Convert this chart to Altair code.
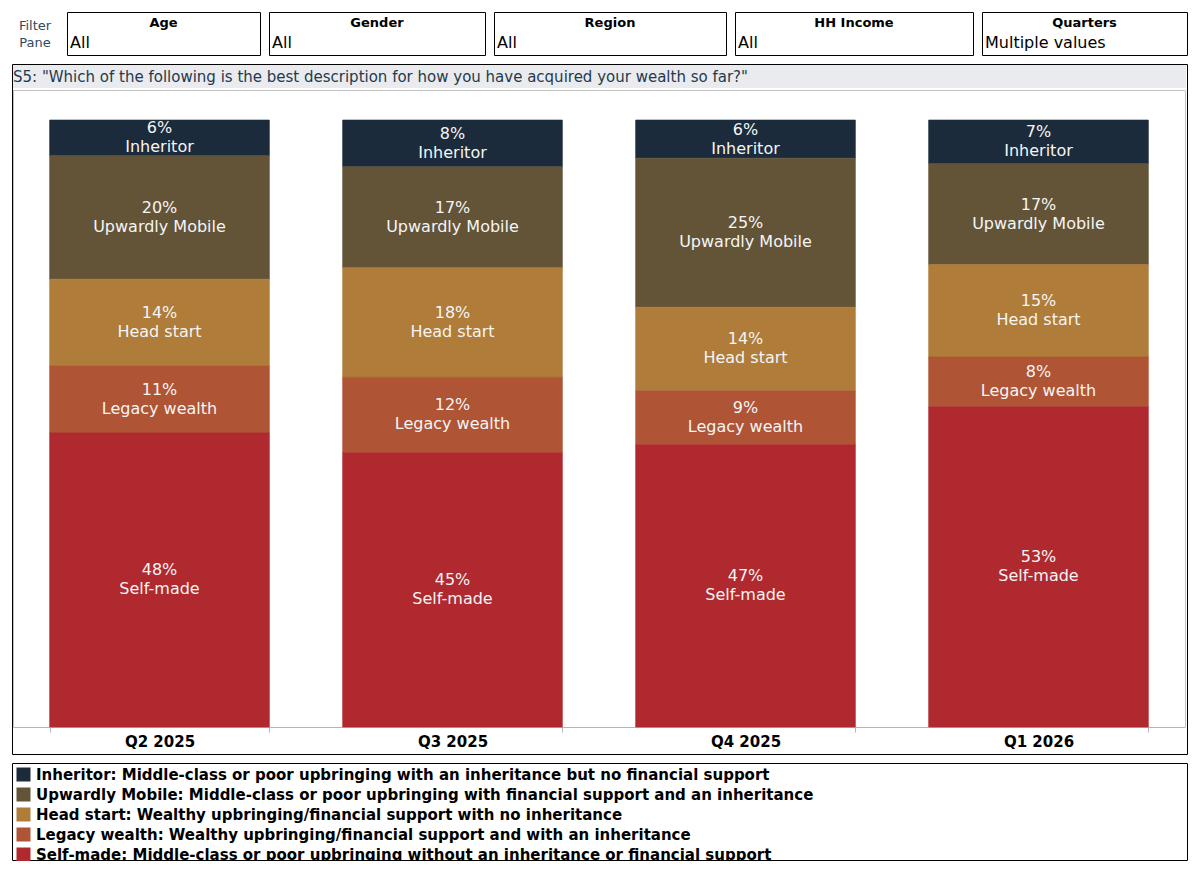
import altair as alt
import pandas as pd

quarters = ["Q2 2025", "Q3 2025", "Q4 2025", "Q1 2026"]
segments = ["Inheritor", "Upwardly Mobile", "Head start", "Legacy wealth", "Self-made"]
descriptions = [
    "Inheritor: Middle-class or poor upbringing with an inheritance but no financial support",
    "Upwardly Mobile: Middle-class or poor upbringing with financial support and an inheritance",
    "Head start: Wealthy upbringing/financial support with no inheritance",
    "Legacy wealth: Wealthy upbringing/financial support and with an inheritance",
    "Self-made: Middle-class or poor upbringing without an inheritance or financial support",
]
colors = ["#1b2b3b", "#635438", "#af7c39", "#af5434", "#b0292f"]

# percent values per segment, one per quarter
inheritor = [5.9, 7.7, 6.3, 7.2]
upwardly_mobile = [20.3, 16.6, 24.6, 16.6]
head_start = [14.3, 18.0, 13.8, 15.2]
legacy_wealth = [11.0, 12.4, 8.9, 8.2]
self_made = [48.4, 45.1, 46.6, 52.7]

filter_names = ["Age", "Gender", "Region", "HH Income", "Quarters"]
filter_values = ["All", "All", "All", "All", "Multiple values"]
title_text = 'S5: "Which of the following is the best description for how you have acquired your wealth so far?"'

series = [inheritor, upwardly_mobile, head_start, legacy_wealth, self_made]
rows = []
for si, (seg, desc, vals) in enumerate(zip(segments, descriptions, series)):
    for q, v in zip(quarters, vals):
        rows.append({"quarter": q, "seg": seg, "desc": desc, "value": v,
                     "order": len(segments) - 1 - si})
df = pd.DataFrame(rows)

FONT = "DejaVu Sans"
one = pd.DataFrame({"k": [0]})

xenc = alt.X("quarter:N", sort=quarters,
             scale=alt.Scale(paddingInner=0.25, paddingOuter=0.125),
             axis=alt.Axis(title=None, labelAngle=0, labelFont=FONT, labelFontSize=15,
                           labelFontWeight="bold", labelColor="black",
                           domainColor="#b5b5b5", tickColor="#b5b5b5", tickBand="extent",
                           tickSize=5, labelPadding=2, grid=False))
yscale = alt.Scale(domain=[0, 1])
cscale = alt.Scale(domain=descriptions, range=colors)

base = alt.Chart(df).transform_stack(
    stack="value", groupby=["quarter"], as_=["y0", "y1"], offset="normalize",
    sort=[alt.SortField("order", order="ascending")]
).transform_calculate(
    mid="(datum.y0 + datum.y1) / 2",
    label="[format(datum.value, '.0f') + '%', datum.seg]"
)

bars = base.mark_bar(strokeWidth=0.6).encode(
    x=xenc,
    y=alt.Y("y0:Q", scale=yscale, axis=None),
    y2="y1:Q",
    color=alt.Color("desc:N", scale=cscale,
                    legend=alt.Legend(title=None, orient="none", legendX=3, legendY=647,
                                      direction="vertical", symbolType="square",
                                      symbolSize=196, symbolStrokeWidth=0, symbolOpacity=1,
                                      labelFont=FONT, labelFontSize=15, labelFontWeight="bold",
                                      labelColor="black", labelLimit=1150, rowPadding=4,
                                      labelOffset=5, padding=0)),
    stroke=alt.Stroke("desc:N", scale=cscale, legend=None),
)

labels = base.mark_text(color="#f5f5f5", font=FONT, fontSize=16, lineHeight=19,
                        baseline="middle", align="center", dy=-9.5).encode(
    x=alt.X("quarter:N", sort=quarters),
    y=alt.Y("mid:Q", scale=yscale, axis=None),
    text="label:N",
)


def rect(x1, x2, y1, y2, **kw):
    return alt.Chart(one).mark_rect(**kw).encode(
        x=alt.value(x1), x2=alt.value(x2), y=alt.value(y1), y2=alt.value(y2))


def rule(x1, x2, y1, y2, **kw):
    return alt.Chart(one).mark_rule(**kw).encode(
        x=alt.value(x1), x2=alt.value(x2), y=alt.value(y1), y2=alt.value(y2))


def text(x, y, t, **kw):
    return alt.Chart(one).mark_text(font=FONT, baseline="middle", **kw).encode(
        x=alt.value(x), y=alt.value(y), text=alt.value(t))


deco = []
# filter pane
deco.append(text(22, -94, "Filter", fontSize=13, color="#2e4a5c", align="center"))
deco.append(text(22, -77, "Pane", fontSize=13, color="#2e4a5c", align="center"))
box_edges = [(67, 260), (269, 485), (494, 726), (735, 973), (982, 1187)]
for (l, r), name, val in zip(box_edges, filter_names, filter_values):
    deco.append(rect(l - 12.5, r - 12.5, -107.5, -64.5, fill="white", stroke="black", strokeWidth=1))
    deco.append(text((l + r) / 2 - 13, -97, name, fontSize=13, fontWeight="bold",
                     color="black", align="center"))
    deco.append(text(l - 13 + 3, -77, val, fontSize=16, color="black", align="left"))

# title bar and frame
deco.append(rect(0, 1173, -55, -32, fill="#e9ebef"))
deco.append(text(0, -43, title_text, fontSize=15, color="#1f3a4d", align="left"))
deco.append(rule(0, 1172, -29.5, -29.5, color="#c0c0c0", strokeWidth=1))
deco.append(rule(0.5, 0.5, -29.5, 607, color="#c0c0c0", strokeWidth=1))
deco.append(rule(1172.5, 1172.5, -29.5, 607, color="#c0c0c0", strokeWidth=1))
deco.append(rect(-0.5, 1174.5, -55.5, 634.5, fill="white", fillOpacity=0,
                 stroke="black", strokeWidth=1))
# legend frame
deco.append(rect(-0.5, 1174.5, 643.5, 740.5, fill="white", fillOpacity=0,
                 stroke="black", strokeWidth=1))

chart = alt.layer(*deco, bars, labels).properties(
    width=1172, height=607,
    padding={"left": 5, "top": 112, "right": 6, "bottom": 134},
    autosize=alt.AutoSizeParams(type="none"),
    background="white",
).configure_view(stroke="transparent")

chart.save("out.html", embed_options={"renderer": "svg", "actions": False})
